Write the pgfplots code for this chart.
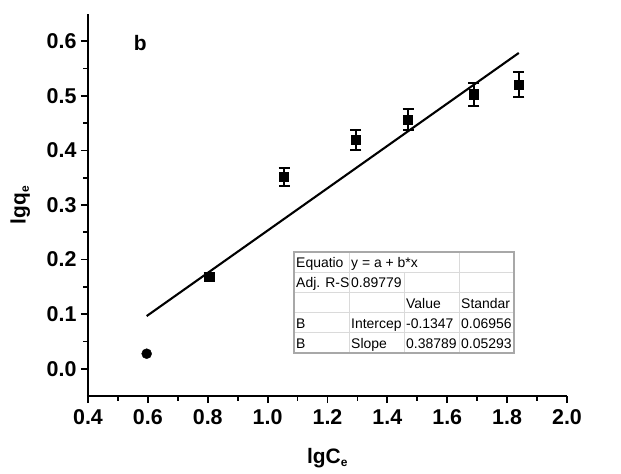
\documentclass[border=0pt]{standalone}
\usepackage{pgfplots}
\pgfplotsset{compat=1.18}
\usepackage{fontspec}
\setmainfont{Liberation Sans}
\definecolor{gridin}{HTML}{DADADA}
\definecolor{gridout}{HTML}{A8A8A8}
\begin{document}
\begin{tikzpicture}[x=1bp,y=1bp]
\path[use as bounding box] (-88bp,-78bp) rectangle (533bp,396bp);
\begin{axis}[
  at={(0,0)}, anchor=south west,
  width=479bp, height=382bp, scale only axis,
  xmin=0.4, xmax=2.0, ymin=-0.05, ymax=0.65,
  axis lines*=left,
  axis line style={line width=2.2pt, shorten <=-1.1pt},
  xtick={0.4,0.6,...,2.0}, ytick={0,0.1,...,0.6},
  minor x tick num=1, minor y tick num=1,
  tick align=outside,
  major tick length=7bp, minor tick length=4.5bp,
  every tick/.style={line width=1.8pt, black},
  ticklabel style={font=\fontsize{21.5}{21.5}\selectfont\bfseries},
  /pgf/number format/assume math mode=true,
  xticklabel style={yshift=-3bp, /pgf/number format/.cd, fixed, fixed zerofill, precision=1},
  yticklabel style={xshift=-1bp, /pgf/number format/.cd, fixed, fixed zerofill, precision=1},
  xlabel={lgC\textsubscript{\fontsize{12}{12}\selectfont e}},
  ylabel={lgq\textsubscript{\fontsize{12}{12}\selectfont e}},
  label style={font=\fontsize{21}{21}\selectfont\bfseries},
  xlabel style={at={(axis description cs:0.5,-0.1754)}, anchor=base},
  ylabel style={at={(axis description cs:-0.13,0.5)}, anchor=base},
  clip=false,
]
\addplot[only marks, mark=square*, mark size=4.6bp, black,
  error bars/.cd, y dir=both, y explicit,
  error bar style={line width=2pt},
  error mark options={rotate=90, mark size=5.5bp, line width=2pt}]
  coordinates {
  (0.805,0.168) +- (0,0.007)
  (1.055,0.352) +- (0,0.0165)
  (1.295,0.419) +- (0,0.018)
  (1.469,0.457) +- (0,0.0195)
  (1.689,0.503) +- (0,0.021)
  (1.839,0.521) +- (0,0.0225)
  };
\addplot[only marks, mark=*, mark size=5bp, black] coordinates {(0.596,0.0275)};
\addplot[black, line width=2.1pt, no marks] coordinates {(0.596,0.09648) (1.839,0.57863)};
\node[font=\fontsize{21}{21}\selectfont\bfseries, anchor=base] at (axis description cs:0.109,0.905) {b};
\end{axis}
% fit table
\begin{scope}[font=\fontsize{14}{14}\selectfont]
\draw[gridin, line width=0.9pt]
  (206,123.8) -- (426,123.8)
  (206,103.6) -- (426,103.6)
  (206,83.4) -- (426,83.4)
  (206,63.2) -- (426,63.2)
  (261,43) -- (261,144)
  (316,43) -- (316,123.8)
  (371,43) -- (371,144);
\draw[gridout, line width=1.1pt] (206,43) rectangle (426,144);
\node[anchor=base west, inner sep=0pt] at (208,128.4) {Equatio};
\node[anchor=base west, inner sep=0pt] at (263,128.4) {y = a + b*x};
\node[anchor=base west, inner sep=0pt] at (208,108.2) {Adj. R-S};
\node[anchor=base west, inner sep=0pt] at (263,108.2) {0.89779};
\node[anchor=base west, inner sep=0pt] at (318,88) {Value};
\node[anchor=base west, inner sep=0pt] at (373,88) {Standar};
\node[anchor=base west, inner sep=0pt] at (208,67.8) {B};
\node[anchor=base west, inner sep=0pt] at (263,67.8) {Intercep};
\node[anchor=base west, inner sep=0pt] at (318,67.8) {-0.1347};
\node[anchor=base west, inner sep=0pt] at (373,67.8) {0.06956};
\node[anchor=base west, inner sep=0pt] at (208,47.6) {B};
\node[anchor=base west, inner sep=0pt] at (263,47.6) {Slope};
\node[anchor=base west, inner sep=0pt] at (318,47.6) {0.38789};
\node[anchor=base west, inner sep=0pt] at (373,47.6) {0.05293};
\end{scope}
\end{tikzpicture}
\end{document}
